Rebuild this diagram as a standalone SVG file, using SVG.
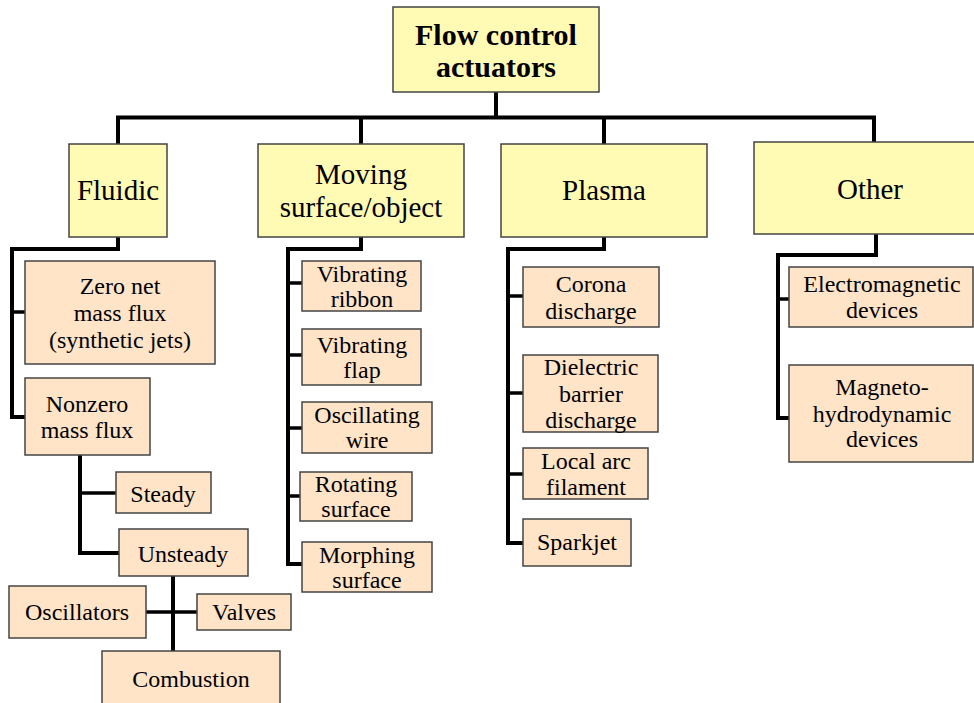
<svg xmlns="http://www.w3.org/2000/svg" width="974" height="703" viewBox="0 0 974 703" font-family="Liberation Serif, serif">
<style>
.cat{fill:#fffbb4;stroke:#444;stroke-width:1.5}
.leaf{fill:#ffe4c8;stroke:#444;stroke-width:1.5}
.t0,.t1,.t2{font-family:"Liberation Serif",serif;fill:#000;text-anchor:middle}
.t0{font-size:30px;font-weight:bold}
.t1{font-size:29px}
.t2{font-size:24px}
.c{fill:none;stroke:#000;stroke-width:4;stroke-linejoin:miter;stroke-linecap:square}
.s{fill:none;stroke:#000;stroke-width:3.5}
</style>
<rect width="974" height="703" fill="#fff"/>
<g id="connectors">
<path class="c" d="M496,92 V117.5 M118,144 V117.5 H874 V142 M361,117.5 V144 M604,117.5 V144"/>
<path class="c" d="M118,237 V249 H12 V417 H25"/>
<path class="s" d="M12,312 H25"/>
<path class="c" d="M80,455 V553 H119"/>
<path class="s" d="M80,493 H116"/>
<path class="c" d="M173,576 V651"/>
<path class="s" d="M146,612 H197"/>
<path class="c" d="M361,237 V249 H288 V564 H302"/>
<path class="s" d="M288,283 H302 M288,355 H302 M288,428 H302 M288,496 H300"/>
<path class="c" d="M604,237 V249 H508 V543 H523"/>
<path class="s" d="M508,296 H523 M508,393 H523 M508,474 H523"/>
<path class="c" d="M876,234 V255 H778 V418 H789"/>
<path class="s" d="M778,299 H789"/>
</g>
<g id="root"><rect class="cat" x="393" y="7" width="206" height="85"/><text class="t0" x="496" y="45">Flow control</text><text class="t0" x="496" y="77">actuators</text></g>
<g id="fluidic"><rect class="cat" x="69" y="144" width="98" height="93"/><text class="t1" x="118" y="200">Fluidic</text></g>
<g id="moving"><rect class="cat" x="258" y="144" width="206" height="93"/><text class="t1" x="361" y="184">Moving</text><text class="t1" x="361" y="217">surface/object</text></g>
<g id="plasma"><rect class="cat" x="501" y="144" width="206" height="93"/><text class="t1" x="604" y="200">Plasma</text></g>
<g id="other"><rect class="cat" x="754" y="142" width="240" height="92"/><text class="t1" x="870" y="199">Other</text></g>
<g id="zeronet"><rect class="leaf" x="25" y="261" width="190" height="103"/><text class="t2" x="120" y="294">Zero net</text><text class="t2" x="120" y="321">mass flux</text><text class="t2" x="120" y="348">(synthetic jets)</text></g>
<g id="nonzero"><rect class="leaf" x="25" y="378" width="125" height="77"/><text class="t2" x="87" y="412">Nonzero</text><text class="t2" x="87" y="438">mass flux</text></g>
<g id="steady"><rect class="leaf" x="116" y="472" width="95" height="41"/><text class="t2" x="163" y="502">Steady</text></g>
<g id="unsteady"><rect class="leaf" x="119" y="529" width="129" height="47"/><text class="t2" x="183" y="562">Unsteady</text></g>
<g id="oscillators"><rect class="leaf" x="9" y="586" width="137" height="52"/><text class="t2" x="77" y="620">Oscillators</text></g>
<g id="valves"><rect class="leaf" x="197" y="594" width="94" height="36"/><text class="t2" x="244" y="620">Valves</text></g>
<g id="combustion"><rect class="leaf" x="102" y="651" width="178" height="60"/><text class="t2" x="191" y="687">Combustion</text></g>
<g id="vribbon"><rect class="leaf" x="302" y="261" width="119" height="50"/><text class="t2" x="362" y="282">Vibrating</text><text class="t2" x="362" y="307">ribbon</text></g>
<g id="vflap"><rect class="leaf" x="302" y="329" width="119" height="56"/><text class="t2" x="362" y="353">Vibrating</text><text class="t2" x="362" y="378">flap</text></g>
<g id="owire"><rect class="leaf" x="302" y="402" width="130" height="51"/><text class="t2" x="367" y="423">Oscillating</text><text class="t2" x="367" y="448">wire</text></g>
<g id="rsurface"><rect class="leaf" x="300" y="472" width="112" height="49"/><text class="t2" x="356" y="492">Rotating</text><text class="t2" x="356" y="517">surface</text></g>
<g id="msurface"><rect class="leaf" x="302" y="542" width="130" height="50"/><text class="t2" x="367" y="563">Morphing</text><text class="t2" x="367" y="588">surface</text></g>
<g id="corona"><rect class="leaf" x="523" y="267" width="136" height="60"/><text class="t2" x="591" y="292">Corona</text><text class="t2" x="591" y="319">discharge</text></g>
<g id="dielectric"><rect class="leaf" x="523" y="355" width="135" height="77"/><text class="t2" x="591" y="375">Dielectric</text><text class="t2" x="591" y="402">barrier</text><text class="t2" x="591" y="428">discharge</text></g>
<g id="localarc"><rect class="leaf" x="523" y="448" width="125" height="51"/><text class="t2" x="586" y="469">Local arc</text><text class="t2" x="586" y="495">filament</text></g>
<g id="sparkjet"><rect class="leaf" x="523" y="519" width="108" height="47"/><text class="t2" x="577" y="550">Sparkjet</text></g>
<g id="electromagnetic"><rect class="leaf" x="789" y="267" width="184" height="60"/><text class="t2" x="882" y="292">Electromagnetic</text><text class="t2" x="882" y="318">devices</text></g>
<g id="magneto"><rect class="leaf" x="789" y="365" width="184" height="97"/><text class="t2" x="882" y="395">Magneto-</text><text class="t2" x="882" y="422">hydrodynamic</text><text class="t2" x="882" y="447">devices</text></g>
</svg>
